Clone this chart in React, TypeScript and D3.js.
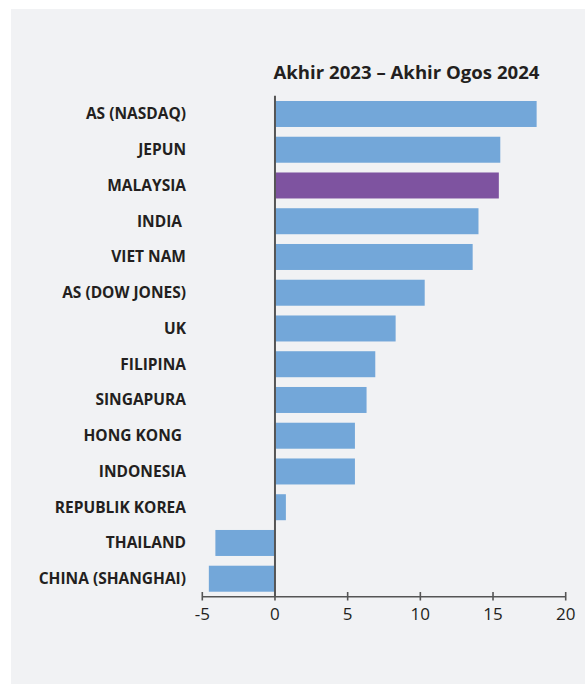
import React from "react";
import * as d3 from "d3";

const categories = [
  "AS (NASDAQ)",
  "JEPUN",
  "MALAYSIA",
  "INDIA ",
  "VIET NAM",
  "AS (DOW JONES)",
  "UK",
  "FILIPINA",
  "SINGAPURA",
  "HONG KONG ",
  "INDONESIA",
  "REPUBLIK KOREA",
  "THAILAND",
  "CHINA (SHANGHAI)",
];
const values = [18.0, 15.5, 15.4, 14.0, 13.6, 10.3, 8.3, 6.9, 6.3, 5.5, 5.5, 0.75, -4.1, -4.55];
const highlight = ["MALAYSIA"];
const tickValues = [-5, 0, 5, 10, 15, 20];
const title = "Akhir 2023 – Akhir Ogos 2024";

const W = 585;
const H = 684;
const FONT = "'Open Sans', 'Noto Sans', sans-serif";
const TEXT = "#231f20";
const AXIS = "#555555";

export default function App() {
  const x = d3.scaleLinear().domain([-5, 20]).range([202.3, 565.7]);
  const y = d3
    .scaleBand<string>()
    .domain(categories)
    .range([95.7, 597])
    .paddingInner(0.273)
    .paddingOuter(0.148);
  const axisY = 596.7;
  const x0 = x(0);

  return (
    <svg
      width={W}
      height={H}
      style={{ position: "absolute", left: 0, top: 0, display: "block" }}
    >
      <rect x={11} y={9} width={W - 11} height={H - 9} fill="#f1f2f4" />
      <text
        x={406.5}
        y={79.3}
        textAnchor="middle"
        fontFamily={FONT}
        fontWeight={700}
        fontSize={18.6}
        fill={TEXT}
      >
        {title}
      </text>
      {categories.map((c, i) => {
        const v = values[i];
        const yy = y(c)!;
        return (
          <rect
            key={c}
            x={Math.min(x(v), x0)}
            y={yy}
            width={Math.abs(x(v) - x0)}
            height={y.bandwidth()}
            fill={highlight.includes(c) ? "#7e53a0" : "#73a7d9"}
          />
        );
      })}
      {categories.map((c) => (
        <text
          key={"l" + c}
          x={186}
          y={y(c)! + y.bandwidth() / 2}
          dy="0.35em"
          textAnchor="end"
          fontFamily={FONT}
          fontWeight={700}
          fontSize={15.5}
          fill={TEXT}
          style={{ whiteSpace: "pre" }}
        >
          {c}
        </text>
      ))}
      <line x1={x0} x2={x0} y1={95.7} y2={axisY} stroke={AXIS} strokeWidth={2} />
      <line x1={x(-5)} x2={x(20)} y1={axisY} y2={axisY} stroke={AXIS} strokeWidth={1.6} />
      {tickValues.map((t) => (
        <g key={"t" + t}>
          <line x1={x(t)} x2={x(t)} y1={592} y2={600.5} stroke={AXIS} strokeWidth={1.6} />
          <text
            x={x(t)}
            y={620}
            textAnchor="middle"
            fontFamily={FONT}
            fontSize={17}
            fill={TEXT}
          >
            {t}
          </text>
        </g>
      ))}
    </svg>
  );
}
